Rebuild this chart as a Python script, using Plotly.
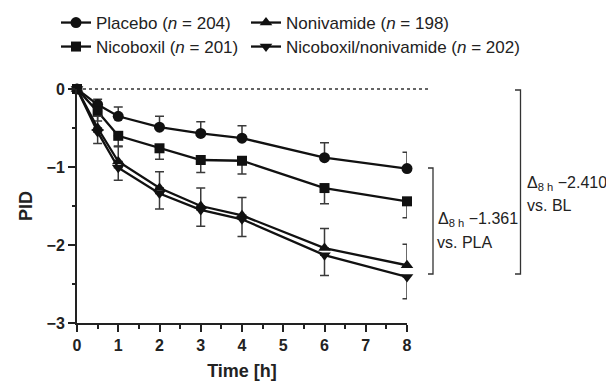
import plotly.graph_objects as go

time_h = [0, 0.5, 1, 2, 3, 4, 6, 8]
placebo = [0, -0.20, -0.35, -0.49, -0.57, -0.63, -0.88, -1.02]
placebo_err = [0, 0.07, 0.12, 0.14, 0.15, 0.16, 0.19, 0.21]
nicoboxil = [0, -0.29, -0.60, -0.76, -0.91, -0.92, -1.27, -1.44]
nicoboxil_err = [0, 0.12, 0.14, 0.14, 0.16, 0.17, 0.20, 0.21]
nonivamide = [0, -0.50, -0.93, -1.27, -1.50, -1.62, -2.04, -2.26]
nonivamide_err = [0, 0.15, 0.20, 0.21, 0.23, 0.23, 0.25, 0.27]
combo = [0, -0.55, -1.01, -1.34, -1.55, -1.67, -2.13, -2.41]
combo_err = [0, 0.15, 0.16, 0.20, 0.21, 0.22, 0.26, 0.28]

names = ["Placebo (<i>n</i> = 204)", "Nicoboxil (<i>n</i> = 201)",
         "Nonivamide (<i>n</i> = 198)", "Nicoboxil/nonivamide (<i>n</i> = 202)"]

FONT = "Liberation Sans, Arial, sans-serif"
ERRC = "#3a3a3a"
zeros = [0] * len(time_h)

fig = go.Figure()

def add(y, err, up, name, symbol, size, legend):
    fig.add_trace(go.Scatter(
        x=time_h, y=y, mode="lines+markers", name=name, legend=legend,
        line=dict(color="#111111", width=2.3),
        marker=dict(symbol=symbol, size=size, color="#111111"),
        error_y=dict(type="data", symmetric=False,
                     array=err if up else zeros,
                     arrayminus=zeros if up else err,
                     color=ERRC, thickness=1.5, width=4.5),
        cliponaxis=False,
    ))

add(placebo, placebo_err, True, names[0], "circle", 11, "legend")
add(nicoboxil, nicoboxil_err, False, names[1], "square", 10, "legend3")
add(nonivamide, nonivamide_err, True, names[2], "triangle-up", 11, "legend2")
add(combo, combo_err, False, names[3], "triangle-down", 11, "legend4")

W, H = 606, 381
PL, PR, PT, PB = 77, 407, 89, 323          # plot-area edges in page pixels
L, T = PL, PT
pw, ph = PR - PL, PB - PT
R, B = W - L - pw, H - T - ph

def px(xp):
    return (xp - PL) / pw

def py(yp):
    return (PB - yp) / ph

leg_common = dict(xanchor="left", yanchor="middle", bgcolor="rgba(0,0,0,0)",
                  font=dict(family=FONT, size=17, color="#222222"))

shapes = [
    dict(type="line", xref="paper", yref="paper", x0=0, x1=px(428), y0=1, y1=1,
         line=dict(color="#333333", width=1.6, dash="dot"), layer="below"),
    dict(type="path", xref="paper", yref="paper",
         path=f"M {px(428)} {py(168)} L {px(433)} {py(168)} L {px(433)} {py(274)} L {px(428)} {py(274)}",
         line=dict(color="#333333", width=1.3)),
    dict(type="path", xref="paper", yref="paper",
         path=f"M {px(515)} {py(90)} L {px(520.5)} {py(90)} L {px(520.5)} {py(274)} L {px(515)} {py(274)}",
         line=dict(color="#333333", width=1.3)),
]

ann_font = dict(family=FONT, size=16, color="#222222")
annotations = [
    dict(text="Δ<sub>8 h</sub> −1.361", x=px(436), y=py(219), xref="paper", yref="paper",
         xanchor="left", yanchor="middle", showarrow=False, font=ann_font),
    dict(text="vs. PLA", x=px(435), y=py(242), xref="paper", yref="paper",
         xanchor="left", yanchor="middle", showarrow=False, font=ann_font),
    dict(text="Δ<sub>8 h</sub> −2.410", x=px(525), y=py(183), xref="paper", yref="paper",
         xanchor="left", yanchor="middle", showarrow=False, font=ann_font),
    dict(text="vs. BL", x=px(525), y=py(205), xref="paper", yref="paper",
         xanchor="left", yanchor="middle", showarrow=False, font=ann_font),
]

axis_common = dict(showline=True, linecolor="#222222", linewidth=2, ticks="outside",
                   ticklen=7, tickwidth=2, tickcolor="#222222", showgrid=False,
                   zeroline=False, tickfont=dict(family=FONT, size=16, color="#222222",
                                                  weight="bold"))

fig.update_layout(
    width=W, height=H, margin=dict(l=L, r=R, t=T, b=B, pad=0, autoexpand=False),
    paper_bgcolor="white", plot_bgcolor="white", showlegend=True,
    font=dict(family=FONT, color="#222222"),
    xaxis=dict(range=[0, 8], dtick=1, tick0=0,
               minor=dict(dtick=0.5, ticks="outside", ticklen=3.5, tickwidth=2,
                          tickcolor="#222222"),
               title=dict(text="<b>Time [h]</b>", font=dict(family=FONT, size=18), standoff=13),
               **axis_common),
    yaxis=dict(range=[-3, 0], dtick=1, tick0=0,
               minor=dict(dtick=0.5, ticks="outside", ticklen=3.5, tickwidth=2,
                          tickcolor="#222222"),
               title=dict(text="<b>PID</b>", font=dict(family=FONT, size=18), standoff=9),
               **axis_common),
    legend=dict(x=px(56), y=py(23), **leg_common),
    legend2=dict(x=px(246), y=py(23), **leg_common),
    legend3=dict(x=px(56), y=py(47), **leg_common),
    legend4=dict(x=px(246), y=py(47), **leg_common),
    shapes=shapes, annotations=annotations,
)

fig.write_html(
    "out.html",
    config={"displayModeBar": False},
    post_script="document.body.style.margin='0';document.body.style.overflow='hidden';",
)
